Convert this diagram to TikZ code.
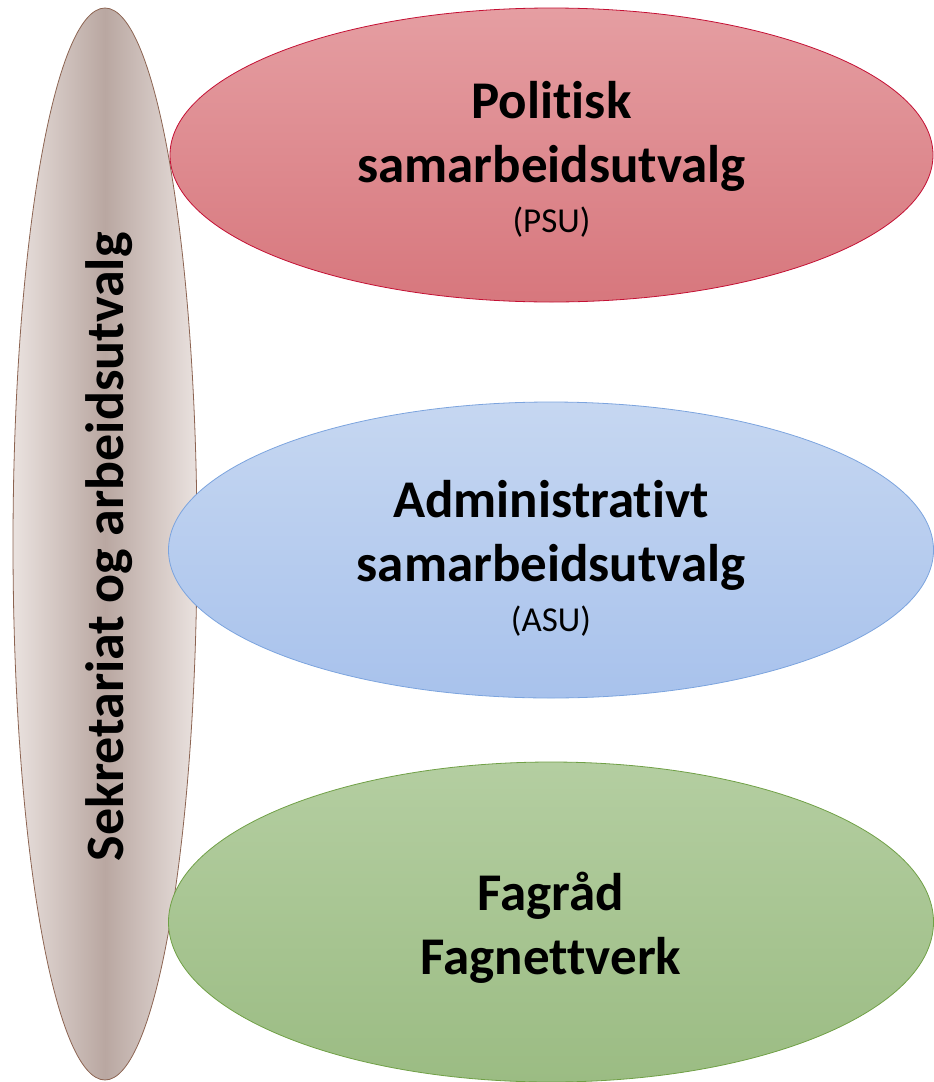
\documentclass[tikz,border=0pt]{standalone}
\usepackage{fontspec}
\setmainfont{Carlito}[Ligatures=CommonOff]
\usetikzlibrary{shapes.geometric}
\definecolor{psutop}{RGB}{229,158,162}
\definecolor{psubot}{RGB}{215,119,125}
\definecolor{psuline}{RGB}{196,16,52}
\definecolor{asutop}{RGB}{198,215,241}
\definecolor{asubot}{RGB}{168,194,236}
\definecolor{asuline}{RGB}{124,164,222}
\definecolor{fagtop}{RGB}{180,206,161}
\definecolor{fagbot}{RGB}{155,188,131}
\definecolor{fagline}{RGB}{112,160,70}
\definecolor{sekrlight}{RGB}{234,226,223}
\definecolor{sekrdark}{RGB}{185,167,161}
\definecolor{sekrline}{RGB}{140,100,82}
\newcommand{\unitabbr}[1]{{\fontsize{35}{40}\selectfont\mdseries #1}}
\begin{document}
\begin{tikzpicture}[
        x=1pt, y=-1pt,
        oval/.style={ellipse, draw, inner sep=0pt, line width=0.8pt},
        big text/.style={font=\fontsize{53}{64}\selectfont\bfseries, align=center}
        ]
        \useasboundingbox (0,0) rectangle (934,1082);
        % Side
        \node[oval, draw=sekrline, left color=sekrlight, right color=sekrlight,
            middle color=sekrdark, minimum width=184, minimum height=1072]
            (sekr) at (105,544) {};
        \node[big text, font=\fontsize{54}{64}\selectfont\bfseries, rotate=90,
            anchor=base] (sekrtext) at (123,547) {Sekretariat og arbeidsutvalg};
        % Ovals
        \node[oval, draw=psuline, top color=psutop, bottom color=psubot,
            minimum width=763, minimum height=294] (psu) at (551.5,155) {};
        \node[oval, draw=asuline, top color=asutop, bottom color=asubot,
            minimum width=765, minimum height=296] (asu) at (551,550) {};
        \node[oval, draw=fagline, top color=fagtop, bottom color=fagbot,
            minimum width=765, minimum height=320] (fag) at (551,922) {};
        % Texts
        \node[big text] (psutext) at ([yshift=-4pt]psu.center)
            {Politisk\\samarbeidsutvalg\\[-14pt]\unitabbr{(PSU)}};
        \node[big text] (asutext) at ([yshift=-8pt]asu.center)
            {Administrativt\\samarbeidsutvalg\\[-14pt]\unitabbr{(ASU)}};
        \node[big text] (fagtext) at ([yshift=-6pt]fag.center)
            {Fagråd\\Fagnettverk};
    \end{tikzpicture}
\end{document}
